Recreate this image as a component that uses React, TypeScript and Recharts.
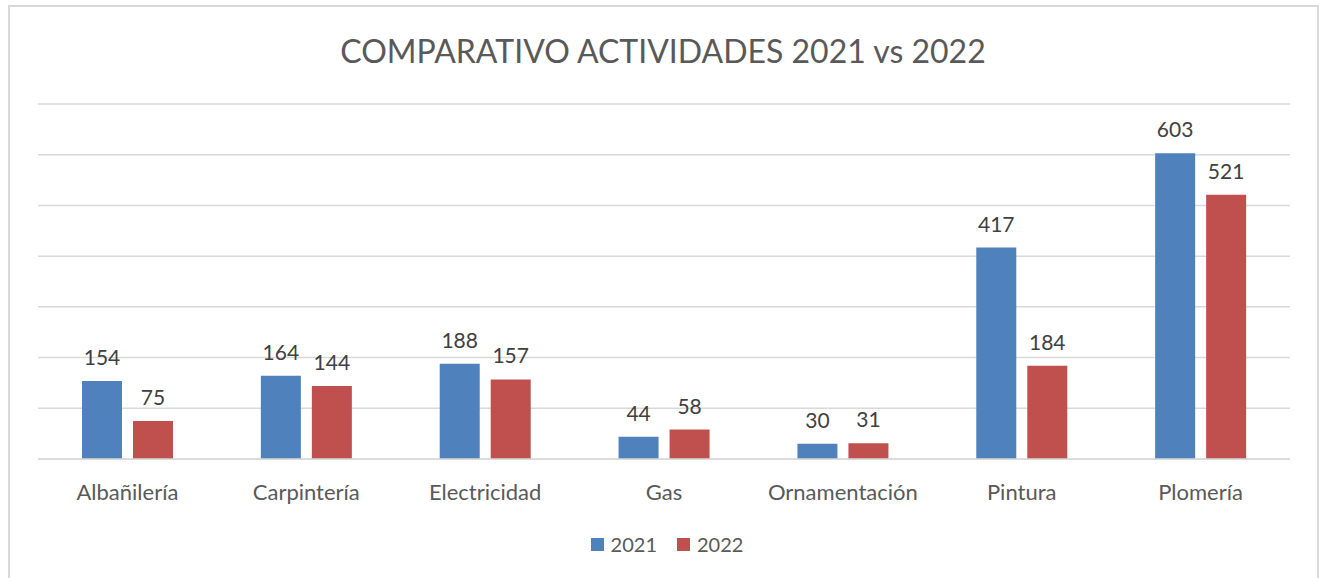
import React from 'react';
import { BarChart, Bar, XAxis, YAxis, CartesianGrid, Legend, LabelList } from 'recharts';

const categories = ['Albañilería', 'Carpintería', 'Electricidad', 'Gas', 'Ornamentación', 'Pintura', 'Plomería'];
const values2021 = [154, 164, 188, 44, 30, 417, 603];
const values2022 = [75, 144, 157, 58, 31, 184, 521];
const yTicks = [0, 100, 200, 300, 400, 500, 600, 700];
const seriesNames = ['2021', '2022'];
const seriesColors = ['#4F81BD', '#C0504D'];

const data = categories.map((c, i) => ({ name: c, s2021: values2021[i], s2022: values2022[i] }));

const FONT = 'Lato, "Open Sans", sans-serif';

const LegendContent = () => (
  <div style={{ display: 'flex', justifyContent: 'center', alignItems: 'center', fontFamily: FONT, fontSize: 20, color: '#595959', paddingLeft: 14 }}>
    {seriesNames.map((n, i) => (
      <div key={n} style={{ display: 'flex', alignItems: 'center', marginRight: i === 0 ? 20 : 0 }}>
        <span style={{ display: 'inline-block', width: 13, height: 13, background: seriesColors[i], marginRight: 7 }} />
        <span>{n}</span>
      </div>
    ))}
  </div>
);

export default function App() {
  return (
    <div style={{ position: 'absolute', left: 0, top: 0, width: 1320, height: 578, overflow: 'hidden', background: '#fff' }}>
      <div style={{ position: 'absolute', left: 8, top: 5, width: 1311, height: 700, border: '2px solid #d9d9d9', boxSizing: 'border-box' }} />
      <svg width={1320} height={100} style={{ position: 'absolute', left: 0, top: 0 }}>
        <text x={663} y={63} textAnchor="middle" fontFamily={FONT} fontSize={32} fill="#595959">COMPARATIVO ACTIVIDADES 2021 vs 2022</text>
      </svg>
      <div style={{ position: 'absolute', left: 0, top: 0 }}>
        <BarChart width={1320} height={578} data={data} margin={{ top: 104, right: 30, bottom: 79, left: 38 }} barGap={11}>
          <CartesianGrid vertical={false} stroke="#d9d9d9" strokeWidth={1.5} />
          <XAxis dataKey="name" height={40} tickLine={false} axisLine={{ stroke: '#d9d9d9', strokeWidth: 1.5 }} tickMargin={19}
            tick={{ fill: '#595959', fontSize: 22, fontFamily: FONT }} interval={0} />
          <YAxis hide domain={[0, 700]} ticks={yTicks} />
          <Legend verticalAlign="middle" align="center" layout="horizontal" content={<LegendContent />}
            wrapperStyle={{ top: 532, left: 0, width: 1320 }} />
          <Bar dataKey="s2021" name="2021" fill={seriesColors[0]} barSize={40} isAnimationActive={false}>
            <LabelList dataKey="s2021" position="top" offset={16} fill="#404040" fontSize={21} fontFamily={FONT} />
          </Bar>
          <Bar dataKey="s2022" name="2022" fill={seriesColors[1]} barSize={40} isAnimationActive={false}>
            <LabelList dataKey="s2022" position="top" offset={16} fill="#404040" fontSize={21} fontFamily={FONT} />
          </Bar>
        </BarChart>
      </div>
    </div>
  );
}
